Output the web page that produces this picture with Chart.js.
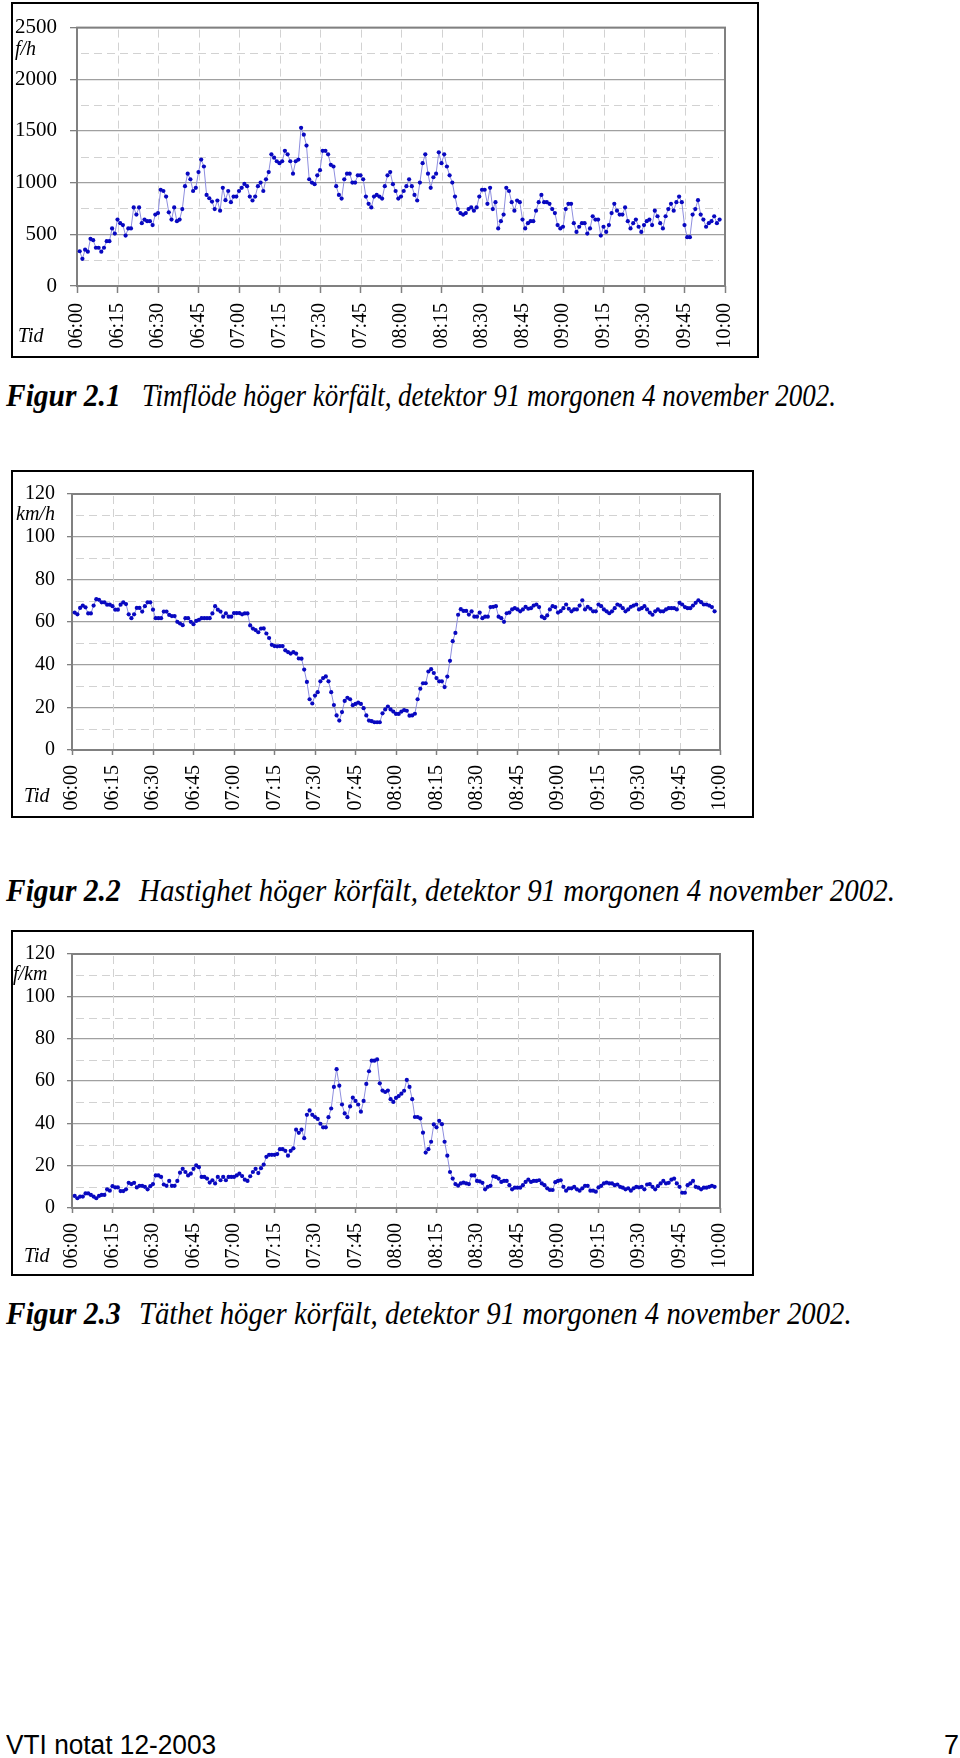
<!DOCTYPE html>
<html lang="sv">
<head>
<meta charset="utf-8">
<title>Figur 2.1 - 2.3</title>
<script src="https://cdn.jsdelivr.net/npm/chart.js@4.4.1/dist/chart.umd.min.js"></script>
<style>
    body { margin: 0; background: #fff; }
    #sida { position: relative; width: 960px; height: 1758px; overflow: hidden; background: #fff; }
    .ram { position: absolute; border: 2px solid #000; box-sizing: border-box; }
    canvas { position: absolute; }
    .enhet, .tid { position: absolute; font-family: 'Liberation Serif', serif; font-style: italic; font-size: 20px; line-height: 20px; color: #000; }
    .fig { position: absolute; font-family: 'Liberation Serif', serif; font-style: italic; font-weight: bold; font-size: 31px; line-height: 31px; white-space: nowrap; transform-origin: left top; }
    .text { position: absolute; font-family: 'Liberation Serif', serif; font-style: italic; font-size: 31px; line-height: 31px; white-space: nowrap; transform-origin: left top; }
    .fot { position: absolute; font-family: 'Liberation Sans Narrow', 'Liberation Sans', sans-serif; font-size: 27px; line-height: 27px; white-space: nowrap; transform-origin: left top; }
</style>
</head>
<body>
<div id="sida">
    <!-- Figur 2.1 -->
    <canvas id="flode" width="748" height="356" style="left:11px; top:2px; width:748px; height:356px;"></canvas>
    <div class="ram" style="left:11px; top:2px; width:748px; height:356px;"></div>
    <div class="enhet" style="left:15px; top:38px;">f/h</div>
    <div class="tid" style="left:18px; top:325px;">Tid</div>
    <span class="fig" id="fig1" style="left:6px; top:380px;">Figur 2.1</span>
    <span class="text" id="text1" style="left:142px; top:380px;">Timflöde höger körfält, detektor 91 morgonen 4 november 2002.</span>

    <!-- Figur 2.2 -->
    <canvas id="hastighet" width="743" height="348" style="left:11px; top:470px; width:743px; height:348px;"></canvas>
    <div class="ram" style="left:11px; top:470px; width:743px; height:348px;"></div>
    <div class="enhet" style="left:16px; top:503px;">km/h</div>
    <div class="tid" style="left:24px; top:785px;">Tid</div>
    <span class="fig" id="fig2" style="left:6px; top:875px;">Figur 2.2</span>
    <span class="text" id="text2" style="left:139px; top:875px;">Hastighet höger körfält, detektor 91 morgonen 4 november 2002.</span>

    <!-- Figur 2.3 -->
    <canvas id="tathet" width="743" height="346" style="left:11px; top:930px; width:743px; height:346px;"></canvas>
    <div class="ram" style="left:11px; top:930px; width:743px; height:346px;"></div>
    <div class="enhet" style="left:13px; top:963px;">f/km</div>
    <div class="tid" style="left:24px; top:1245px;">Tid</div>
    <span class="fig" id="fig3" style="left:6px; top:1298px;">Figur 2.3</span>
    <span class="text" id="text3" style="left:139px; top:1298px;">Täthet höger körfält, detektor 91 morgonen 4 november 2002.</span>

    <span class="fot" id="fot" style="left:6px; top:1732px;">VTI notat 12-2003</span>
    <span class="fot" style="left:944px; top:1732px;">7</span>
</div>

<script>
// Tidsetiketter på x-axeln (var 15:e minut)
const tider = ['06:00', '06:15', '06:30', '06:45', '07:00', '07:15', '07:30', '07:45',
    '08:00', '08:15', '08:30', '08:45', '09:00', '09:15', '09:30', '09:45', '10:00'];

// Timflöde (f/h), ett värde per minut från 06:01
const timflode = [
    336, 263, 351, 332, 456, 443, 370, 370, 332, 370,
    434, 434, 557, 507, 643, 608, 589, 488, 557, 557,
    760, 691, 760, 608, 643, 627, 627, 589, 691, 706,
    931, 919, 865, 713, 643, 760, 627, 643, 744, 966,
    1087, 1033, 919, 950, 1102, 1223, 1156, 881, 849, 817,
    744, 827, 729, 950, 830, 919, 811, 865, 865, 919,
    950, 988, 966, 865, 827, 865, 966, 1001, 919, 1033,
    1102, 1274, 1242, 1207, 1188, 1207, 1308, 1274, 1207, 1087,
    1207, 1223, 1530, 1464, 1359, 1033, 1001, 985, 1071, 1121,
    1308, 1308, 1274, 1172, 1156, 966, 881, 846, 1033, 1087,
    1087, 1001, 1001, 1071, 1071, 1033, 865, 795, 760, 865,
    881, 865, 846, 966, 1071, 1102, 985, 919, 846, 865,
    919, 966, 1033, 966, 881, 827, 1001, 1188, 1274, 1087,
    950, 1052, 1087, 1293, 1188, 1274, 1156, 1071, 1001, 865,
    744, 706, 691, 706, 744, 760, 729, 760, 865, 931,
    931, 795, 950, 744, 811, 557, 627, 691, 950, 919,
    811, 729, 827, 811, 643, 557, 608, 627, 627, 729,
    811, 881, 811, 811, 795, 744, 706, 589, 557, 573,
    744, 795, 795, 608, 523, 573, 608, 608, 507, 557,
    675, 643, 643, 488, 573, 523, 589, 706, 795, 729,
    691, 691, 760, 627, 557, 608, 643, 573, 523, 589,
    627, 643, 589, 729, 675, 608, 557, 675, 744, 795,
    729, 811, 865, 811, 589, 472, 472, 691, 744, 830,
    691, 643, 573, 608, 627, 675, 608, 643
];

// Hastighet (km/h)
const hastighet = [
    64.4, 63.6, 66.6, 67.7, 66.9, 64.0, 64.0, 67.7, 70.7, 70.4,
    69.2, 69.2, 68.1, 68.1, 67.4, 65.8, 65.8, 68.1, 69.2, 68.4,
    63.6, 61.8, 63.6, 66.6, 66.6, 64.9, 67.4, 69.2, 69.2, 65.8,
    61.8, 61.8, 61.8, 64.9, 64.9, 63.3, 62.8, 62.8, 60.1, 59.3,
    58.5, 61.8, 61.8, 60.1, 59.0, 60.5, 61.0, 61.8, 61.8, 61.8,
    61.8, 64.0, 67.4, 65.8, 64.9, 62.5, 64.0, 62.5, 62.5, 64.2,
    64.2, 64.2, 63.6, 64.0, 64.0, 58.4, 56.9, 56.2, 55.2, 56.9,
    57.0, 54.6, 52.5, 49.3, 48.7, 48.6, 48.7, 48.7, 46.7, 45.9,
    45.2, 45.9, 45.2, 42.9, 42.8, 37.7, 31.9, 23.8, 21.8, 25.5,
    27.1, 32.2, 33.7, 34.5, 32.2, 27.1, 21.1, 16.2, 13.8, 17.8,
    23.0, 24.5, 23.8, 21.0, 21.6, 22.2, 21.6, 19.6, 16.2, 13.8,
    13.5, 13.0, 13.0, 13.0, 17.2, 19.0, 20.4, 19.0, 18.0, 16.9,
    16.9, 18.0, 18.7, 18.4, 16.1, 16.2, 17.0, 23.8, 28.7, 31.3,
    31.3, 36.8, 37.9, 36.1, 33.7, 32.2, 32.2, 29.5, 34.4, 41.8,
    51.0, 54.9, 63.4, 66.0, 65.2, 65.2, 63.5, 65.0, 62.5, 62.5,
    64.4, 61.8, 62.5, 62.5, 67.0, 67.1, 67.4, 62.5, 61.8, 60.1,
    64.1, 64.4, 65.9, 66.5, 65.9, 65.0, 65.9, 67.1, 66.2, 66.5,
    67.7, 68.2, 67.0, 62.5, 61.8, 63.1, 65.9, 67.4, 67.0, 64.4,
    65.1, 66.5, 68.2, 66.2, 65.0, 65.9, 65.9, 67.7, 70.2, 65.9,
    67.1, 66.2, 65.0, 65.0, 68.2, 67.4, 65.9, 65.0, 64.1, 65.0,
    66.5, 68.2, 67.7, 66.5, 65.0, 65.9, 67.1, 67.7, 68.2, 65.9,
    66.5, 67.4, 65.9, 64.4, 63.4, 65.0, 65.9, 65.0, 65.0, 65.9,
    66.5, 66.5, 66.5, 65.9, 69.0, 68.2, 67.0, 66.5, 66.5, 67.7,
    69.0, 70.2, 69.3, 68.2, 68.2, 67.7, 67.0, 65.0
];

// Täthet (f/km)
const tathet = [
    5.7, 4.6, 5.4, 5.4, 6.9, 6.9, 6.2, 5.4, 4.6, 5.7,
    6.2, 6.2, 8.8, 8.2, 10.3, 9.7, 9.7, 8.0, 8.0, 8.8,
    11.9, 11.3, 11.9, 9.7, 10.5, 10.5, 10.0, 8.8, 10.3, 11.3,
    15.4, 15.4, 14.7, 11.1, 10.5, 12.8, 10.5, 10.5, 12.8, 16.7,
    18.5, 17.0, 15.4, 16.2, 18.5, 20.1, 19.3, 14.7, 14.7, 13.9,
    12.0, 13.1, 11.6, 14.7, 13.1, 14.7, 13.1, 14.7, 14.7, 14.7,
    15.4, 16.2, 15.1, 13.4, 12.8, 15.0, 17.0, 18.5, 16.5, 18.8,
    20.5, 24.2, 25.1, 25.1, 25.1, 25.5, 27.8, 27.8, 27.0, 24.7,
    27.0, 28.2, 37.0, 35.5, 37.0, 33.0, 44.0, 46.1, 44.0, 43.0,
    42.1, 39.8, 38.1, 38.1, 42.9, 47.0, 57.2, 65.6, 57.8, 48.9,
    44.7, 42.9, 48.0, 52.1, 50.6, 48.9, 45.5, 50.6, 58.6, 64.6,
    69.6, 69.6, 70.2, 58.9, 55.5, 54.8, 55.5, 51.4, 50.1, 52.0,
    52.9, 54.0, 55.4, 60.5, 57.2, 51.4, 43.0, 43.0, 42.3, 35.6,
    26.2, 27.8, 31.3, 39.5, 38.1, 41.2, 39.6, 31.3, 24.7, 17.0,
    13.9, 11.3, 10.6, 11.6, 12.0, 11.6, 11.3, 15.4, 15.4, 12.8,
    12.6, 11.9, 8.8, 10.0, 10.5, 15.0, 14.7, 13.9, 12.3, 12.8,
    12.8, 10.8, 8.8, 9.6, 9.6, 9.6, 10.8, 12.3, 13.4, 12.3,
    12.8, 12.8, 13.1, 11.6, 10.8, 9.3, 8.5, 8.5, 12.2, 12.8,
    13.1, 10.0, 8.2, 9.3, 9.3, 10.0, 8.8, 8.2, 9.3, 10.5,
    10.5, 8.2, 8.2, 7.7, 9.7, 10.5, 11.6, 12.0, 11.6, 11.6,
    10.8, 11.1, 10.0, 9.6, 8.8, 9.3, 8.2, 9.3, 10.0, 9.7,
    10.0, 8.8, 11.1, 11.3, 10.0, 8.8, 10.3, 11.6, 12.8, 11.6,
    11.9, 13.4, 13.9, 11.6, 10.0, 7.2, 7.2, 10.8, 11.6, 12.8,
    10.0, 9.6, 8.8, 9.6, 9.6, 10.0, 10.5, 10.0
];

// Streckade hjälplinjer och grå ram kring diagramytan
const rutnat = {
    id: 'rutnat',
    beforeDatasetsDraw(chart, args, opts) {
        const ctx = chart.ctx;
        const a = chart.chartArea;
        const x = chart.scales.x;
        const y = chart.scales.y;
        ctx.save();
        ctx.lineWidth = 1;
        ctx.strokeStyle = '#d2d2d2';
        ctx.setLineDash([8, 5]);
        // halvsteg på y-axeln
        for (let v = opts.steg / 2; v < y.max; v += opts.steg) {
            const py = Math.round(y.getPixelForValue(v)) + 0.5;
            ctx.beginPath();
            ctx.moveTo(a.left + 4, py);
            ctx.lineTo(a.right - 6, py);
            ctx.stroke();
        }
        // lodräta linjer vid varje kvart
        x.ticks.forEach(t => {
            const px = Math.round(x.getPixelForValue(t.value)) + 0.5;
            ctx.beginPath();
            ctx.moveTo(px, a.top + 2);
            ctx.lineTo(px, a.bottom);
            ctx.stroke();
        });
        ctx.setLineDash([]);
        ctx.strokeStyle = '#808080';
        ctx.lineWidth = 2;
        ctx.strokeRect(a.left, a.top, a.right - a.left, a.bottom - a.top);
        ctx.restore();
    }
};

function ritaDiagram(id, varden, yMax, steg, mått) {
    const ctx = document.getElementById(id).getContext('2d');
    return new Chart(ctx, {
        type: 'line',
        data: {
            datasets: [{
                data: varden.map((v, i) => ({ x: i + 1, y: v })),
                borderColor: '#8e8ede',
                borderWidth: 1,
                pointRadius: 2.1,
                pointBorderWidth: 0,
                pointBackgroundColor: '#0808c0',
                tension: 0
            }]
        },
        plugins: [rutnat],
        options: {
            responsive: false,
            animation: false,
            events: [],
            layout: { padding: { top: mått.top, right: mått.right, left: 0, bottom: 0 } },
            plugins: {
                legend: { display: false },
                tooltip: { enabled: false },
                rutnat: { steg: steg }
            },
            scales: {
                x: {
                    type: 'linear',
                    min: 0,
                    max: 240,
                    afterFit: s => { s.height = mått.xHojd; },
                    ticks: {
                        stepSize: 15,
                        autoSkip: false,
                        minRotation: 90,
                        maxRotation: 90,
                        padding: 10,
                        color: '#000',
                        font: { family: 'Liberation Serif', size: 20 },
                        callback: (v, i) => tider[i]
                    },
                    grid: { color: 'rgba(0,0,0,0)', drawOnChartArea: false, tickColor: '#808080', tickLength: mått.tick, tickWidth: 1.5 },
                    border: { display: false }
                },
                y: {
                    min: 0,
                    max: yMax,
                    afterFit: s => { s.width = mått.yBredd; },
                    ticks: {
                        stepSize: steg,
                        padding: mått.pad,
                        color: '#000',
                        font: { family: 'Liberation Serif', size: mått.font },
                        callback: v => String(v)
                    },
                    grid: { color: '#a0a0a0', lineWidth: 1.3, tickLength: mått.tick, tickColor: '#808080' },
                    border: { display: false }
                }
            }
        }
    });
}

ritaDiagram('flode', timflode, 2500, 500, { top: 21, right: 19, xHojd: 72, yBredd: 66, tick: 7, pad: 13, font: 21 });
ritaDiagram('hastighet', hastighet, 120, 20, { top: 19, right: 17, xHojd: 68, yBredd: 61, tick: 5, pad: 12, font: 20 });
ritaDiagram('tathet', tathet, 120, 20, { top: 19, right: 17, xHojd: 68, yBredd: 61, tick: 5, pad: 12, font: 20 });

// Anpassa bredden på bildtexterna till förlagan
function passaBredd(id, bredd) {
    const el = document.getElementById(id);
    el.style.transform = 'scaleX(' + (bredd / el.offsetWidth) + ')';
}
passaBredd('fig1', 115);
passaBredd('text1', 694);
passaBredd('fig2', 115);
passaBredd('text2', 756);
passaBredd('fig3', 115);
passaBredd('text3', 713);
passaBredd('fot', 210);
</script>
</body>
</html>
